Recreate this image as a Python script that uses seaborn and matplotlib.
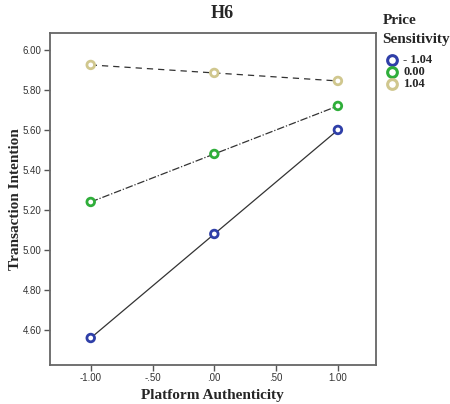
import seaborn as sns
import matplotlib.pyplot as plt
import pandas as pd

# data
authenticity = [-1.0, 0.0, 1.0]
low_ps = [4.56, 5.08, 5.60]
mid_ps = [5.24, 5.48, 5.72]
high_ps = [5.925, 5.885, 5.845]
groups = ["- 1.04", "0.00", "1.04"]
marker_colors = ["#2f3fa8", "#2fae3a", "#d0c78e"]
line_styles = ["-", (0, (6, 1.5, 1, 1.5)), (0, (5, 4))]

df = pd.DataFrame({
    "x": authenticity * 3,
    "y": low_ps + mid_ps + high_ps,
    "ps": [g for g in groups for _ in authenticity],
})

sns.set_style("white")
serif = ["Liberation Serif", "DejaVu Serif"]

fig = plt.figure(figsize=(4.5, 4.04), dpi=100)
ax = fig.add_axes([0.111, 0.0965, 0.725, 0.822])

for g, ls in zip(groups, line_styles):
    sub = df[df["ps"] == g]
    sns.lineplot(data=sub, x="x", y="y", color="#333333", lw=0.9,
                 linestyle=ls, ax=ax, legend=False)
sns.scatterplot(data=df, x="x", y="y", hue="ps", palette=marker_colors,
                ax=ax, legend=False, s=30, linewidth=2, zorder=5)
# open circles
ax.collections[-1].set_facecolor("white")
ax.collections[-1].set_edgecolor([marker_colors[groups.index(g)] for g in df["ps"]])

ax.set_xlim(-1.33, 1.31)
ax.set_ylim(4.425, 6.085)
ax.set_xticks([-1, -0.5, 0, 0.5, 1])
ax.set_xticklabels(["-1.00", "-.50", ".00", ".50", "1.00"])
ax.set_yticks([4.6, 4.8, 5.0, 5.2, 5.4, 5.6, 5.8, 6.0])
ax.set_yticklabels(["4.60", "4.80", "5.00", "5.20", "5.40", "5.60", "5.80", "6.00"])
ax.tick_params(axis="both", which="both", direction="out", length=4, width=1, pad=2,
               color="#555555", labelsize=7, labelcolor="#333333", left=True, bottom=True)
for lab in ax.get_xticklabels() + ax.get_yticklabels():
    lab.set_family("Liberation Sans")
for sp in ax.spines.values():
    sp.set_color("#666666")
    sp.set_linewidth(1.3)

ax.set_xlabel("")
ax.set_ylabel("")
fig.text(212 / 450, 1 - 395 / 404, "Platform Authenticity", family=serif, fontweight="bold",
         fontsize=11, ha="center", va="center")
fig.text(16 / 450, 1 - 199 / 404, "Transaction Intention", family=serif, fontweight="bold",
         fontsize=11, ha="center", va="center", rotation=90)
fig.text(222 / 450, 1 - 14 / 404, "H6", family=serif, fontweight="bold", fontsize=13,
         ha="center", va="center")

# legend
fig.text(383 / 450, 1 - 21 / 404, "Price", family=serif, fontweight="bold", fontsize=11,
         ha="left", va="center")
fig.text(382 / 450, 1 - 39 / 404, "Sensitivity", family=serif, fontweight="bold", fontsize=11,
         ha="left", va="center")
for i, (g, c) in enumerate(zip(groups, marker_colors)):
    yy = 1 - (60 + i * 12) / 404
    fig.lines.append(plt.Line2D([392 / 450], [yy], marker="o", ms=7, mfc="white", mec=c,
                                mew=2.2, transform=fig.transFigure))
    fig.text(403 / 450, yy, g, family=serif, fontweight="bold", fontsize=9,
             ha="left", va="center")

fig.savefig("out.png", dpi=100)
